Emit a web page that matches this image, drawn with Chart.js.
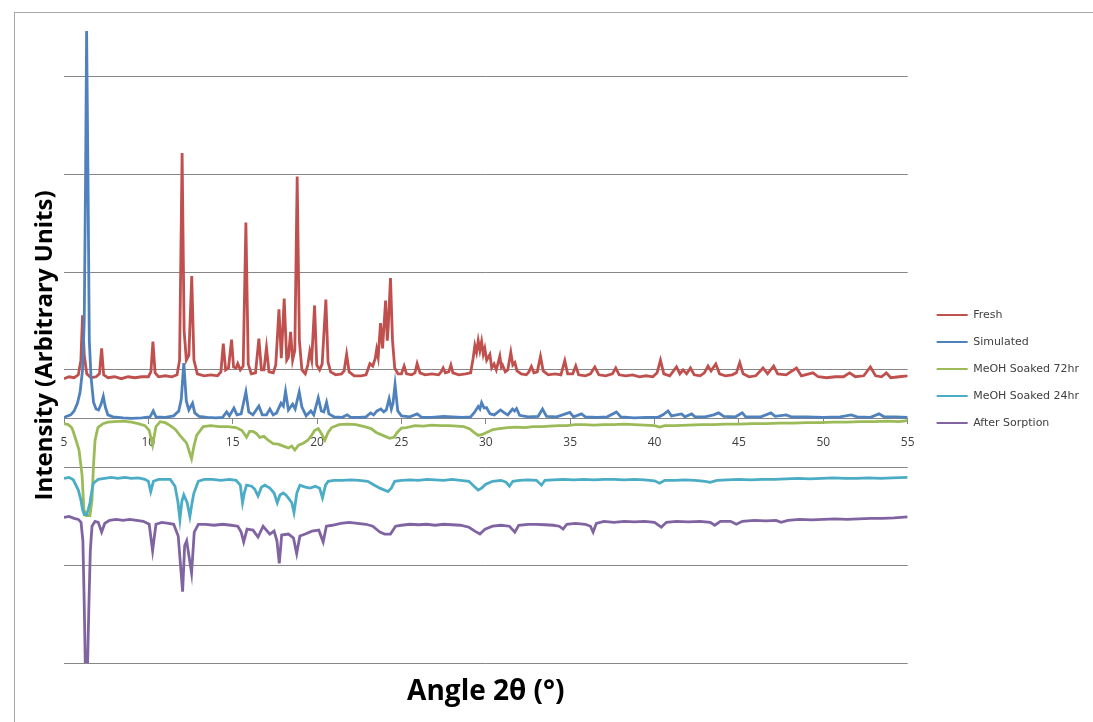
<!DOCTYPE html>
<html>
<head>
<meta charset="utf-8">
<script src="https://cdn.jsdelivr.net/npm/chart.js@4.4.1/dist/chart.umd.min.js"></script>
<style>
  body { margin: 0; background: #fff; }
  #wrap { position: relative; width: 1093px; height: 722px; overflow: hidden; }
  /* marco gris del grafico (arriba e izquierda) */
  #frame { position: absolute; left: 14px; top: 12px; right: -2px; bottom: -2px; border-left: 1px solid #a6a6a6; border-top: 1px solid #a6a6a6; }
  #xrd { position: absolute; left: 0; top: 0; }
</style>
</head>
<body>
<div id="wrap">
  <div id="frame"></div>
  <canvas id="xrd" width="1093" height="722"></canvas>
</div>
<script>
// Datos: [angulo 2θ, intensidad con desplazamiento]
const seriesNames = ['Fresh', 'Simulated', 'MeOH Soaked 72hr', 'MeOH Soaked 24hr', 'After Sorption'];
const seriesColors = ['#C0504D', '#4F81BD', '#9BBB59', '#4BACC6', '#8064A2'];
const angleTicks = [5, 10, 15, 20, 25, 30, 35, 40, 45, 50, 55];
const gridValues = [-25, -15, -5, 5, 15, 25, 35];

const fresh = [[5.0,4.1],[5.3,4.3],[5.6,4.2],[5.85,4.5],[6.0,6.0],[6.1,10.6],[6.2,6.5],[6.35,4.6],[6.6,4.2],[6.9,4.3],[7.1,4.6],[7.23,7.2],[7.35,4.5],[7.6,4.2],[8.0,4.3],[8.4,4.1],[8.8,4.3],[9.2,4.2],[9.6,4.3],[10.0,4.3],[10.15,4.8],[10.27,7.9],[10.4,4.7],[10.6,4.3],[11.0,4.4],[11.4,4.3],[11.7,4.5],[11.85,6.0],[12.0,27.2],[12.12,9.0],[12.25,6.0],[12.4,6.5],[12.57,14.6],[12.7,6.0],[12.9,4.6],[13.3,4.4],[13.7,4.5],[14.1,4.4],[14.3,4.8],[14.44,7.7],[14.58,5.0],[14.75,5.2],[14.93,8.1],[15.05,5.3],[15.2,5.2],[15.3,5.65],[15.45,5.0],[15.62,5.4],[15.78,20.1],[15.92,5.6],[16.1,4.6],[16.35,4.7],[16.55,8.2],[16.7,5.0],[16.85,5.0],[17.0,7.3],[17.15,4.8],[17.4,4.7],[17.55,5.5],[17.74,11.2],[17.88,6.2],[18.05,12.3],[18.2,6.0],[18.3,6.3],[18.43,8.9],[18.55,6.0],[18.68,7.0],[18.82,24.8],[18.95,8.0],[19.1,5.0],[19.3,4.6],[19.45,5.5],[19.57,6.9],[19.68,6.0],[19.85,11.6],[19.98,5.5],[20.15,5.0],[20.3,5.6],[20.52,12.2],[20.65,5.8],[20.8,4.8],[21.1,4.5],[21.45,4.6],[21.6,4.9],[21.75,6.6],[21.9,4.8],[22.2,4.4],[22.6,4.4],[22.9,4.5],[23.0,5.0],[23.13,5.65],[23.3,5.4],[23.45,6.2],[23.53,7.1],[23.62,6.3],[23.76,9.8],[23.88,7.2],[24.06,12.1],[24.16,8.0],[24.22,9.5],[24.35,14.4],[24.47,8.0],[24.6,5.2],[24.8,4.6],[25.0,4.6],[25.16,5.4],[25.3,4.6],[25.6,4.5],[25.8,4.7],[25.93,5.65],[26.1,4.7],[26.4,4.5],[26.8,4.6],[27.2,4.5],[27.35,4.8],[27.47,5.2],[27.6,4.7],[27.8,4.8],[27.93,5.5],[28.05,4.7],[28.4,4.5],[28.8,4.6],[29.1,4.7],[29.25,6.2],[29.35,7.5],[29.45,6.8],[29.55,8.0],[29.65,7.0],[29.75,7.9],[29.85,6.6],[29.94,7.2],[30.05,6.0],[30.24,6.6],[30.35,5.2],[30.49,5.6],[30.62,5.0],[30.83,6.4],[30.92,5.3],[30.99,5.5],[31.15,4.8],[31.3,5.0],[31.48,6.8],[31.6,5.5],[31.72,5.75],[31.85,4.9],[32.1,4.6],[32.4,4.5],[32.55,4.8],[32.7,5.35],[32.85,4.7],[33.05,4.8],[33.24,6.4],[33.4,4.9],[33.7,4.5],[34.1,4.6],[34.45,4.5],[34.68,5.95],[34.85,4.6],[35.15,4.6],[35.33,5.4],[35.5,4.5],[35.9,4.4],[36.2,4.6],[36.46,5.3],[36.7,4.5],[37.1,4.4],[37.5,4.6],[37.7,5.2],[37.9,4.5],[38.3,4.4],[38.7,4.5],[39.1,4.3],[39.5,4.4],[39.9,4.3],[40.15,4.7],[40.35,6.0],[40.55,4.6],[40.9,4.4],[41.3,5.3],[41.5,4.6],[41.69,5.0],[41.9,4.6],[42.13,5.2],[42.35,4.5],[42.7,4.4],[42.95,4.7],[43.17,5.4],[43.35,4.9],[43.63,5.6],[43.85,4.6],[44.2,4.4],[44.6,4.5],[44.85,4.7],[45.05,5.75],[45.25,4.6],[45.6,4.3],[46.0,4.4],[46.43,5.2],[46.7,4.6],[47.06,5.4],[47.3,4.6],[47.8,4.5],[48.41,5.2],[48.7,4.4],[49.39,4.7],[49.7,4.3],[50.2,4.2],[50.7,4.3],[51.2,4.3],[51.56,4.7],[51.9,4.3],[52.4,4.4],[52.79,5.3],[53.1,4.4],[53.45,4.3],[53.74,4.7],[54.0,4.2],[54.5,4.3],[55.0,4.4]];

const simulated = [[5.0,0.1],[5.1,0.2],[5.4,0.4],[5.6,0.8],[5.8,1.6],[5.95,2.7],[6.1,5.0],[6.2,10],[6.28,25],[6.34,39.7],[6.42,25],[6.5,8],[6.6,4.3],[6.75,1.7],[6.9,1.0],[7.05,0.9],[7.2,1.5],[7.33,2.3],[7.45,1.2],[7.6,0.4],[7.9,0.2],[8.5,0.1],[9.0,0.05],[9.6,0.1],[10.1,0.2],[10.29,0.8],[10.45,0.2],[11.0,0.15],[11.5,0.3],[11.8,0.8],[11.95,2.0],[12.1,5.7],[12.25,1.8],[12.4,0.9],[12.62,1.6],[12.75,0.6],[13.0,0.25],[13.5,0.15],[14.0,0.1],[14.4,0.15],[14.64,0.7],[14.8,0.3],[15.07,1.1],[15.25,0.4],[15.5,0.5],[15.78,2.75],[15.95,0.7],[16.2,0.4],[16.55,1.3],[16.75,0.4],[17.0,0.4],[17.2,1.0],[17.4,0.4],[17.6,0.6],[17.86,1.6],[18.0,1.3],[18.13,2.8],[18.3,0.9],[18.55,1.5],[18.7,1.0],[18.94,2.75],[19.1,1.2],[19.35,0.3],[19.63,0.8],[19.8,0.4],[20.07,2.15],[20.25,0.8],[20.4,0.7],[20.56,1.7],[20.7,0.5],[21.0,0.2],[21.5,0.15],[21.78,0.4],[22.0,0.15],[22.5,0.15],[22.9,0.2],[23.17,0.6],[23.35,0.4],[23.55,0.8],[23.78,1.0],[23.95,0.7],[24.1,0.9],[24.27,2.05],[24.4,1.0],[24.5,1.6],[24.62,3.5],[24.78,0.8],[25.0,0.3],[25.5,0.2],[25.93,0.5],[26.2,0.15],[26.8,0.15],[27.5,0.25],[28.0,0.2],[28.6,0.15],[29.1,0.2],[29.3,0.6],[29.55,1.25],[29.65,1.0],[29.75,1.65],[29.9,1.1],[30.04,1.15],[30.25,0.5],[30.5,0.4],[30.87,0.9],[31.1,0.6],[31.3,0.4],[31.58,1.0],[31.7,0.8],[31.82,1.05],[32.0,0.35],[32.5,0.2],[33.1,0.25],[33.36,1.0],[33.6,0.25],[34.2,0.2],[34.98,0.65],[35.2,0.2],[35.67,0.5],[35.9,0.2],[36.6,0.15],[37.2,0.2],[37.74,0.7],[38.0,0.2],[38.8,0.1],[39.5,0.15],[40.2,0.15],[40.5,0.4],[40.8,0.8],[41.0,0.3],[41.6,0.5],[41.8,0.2],[42.2,0.5],[42.4,0.2],[43.0,0.2],[43.5,0.4],[43.8,0.6],[44.1,0.25],[44.8,0.2],[45.2,0.6],[45.4,0.2],[46.3,0.2],[46.9,0.6],[47.15,0.25],[47.8,0.4],[48.1,0.2],[49.0,0.2],[50.0,0.15],[51.0,0.2],[51.66,0.4],[52.0,0.2],[52.8,0.15],[53.3,0.5],[53.6,0.2],[54.3,0.2],[55.0,0.15]];

const soaked72 = [[5.0,-0.5],[5.25,-0.6],[5.45,-0.9],[5.53,-1.2],[5.75,-2.4],[5.89,-3.2],[6.07,-5.75],[6.18,-9.3],[6.3,-9.9],[6.54,-9.9],[6.66,-8.3],[6.75,-4.7],[6.84,-2.2],[7.01,-0.9],[7.31,-0.5],[7.6,-0.35],[8.0,-0.3],[8.5,-0.25],[9.0,-0.35],[9.4,-0.5],[9.8,-0.7],[10.05,-1.2],[10.25,-2.7],[10.45,-0.8],[10.7,-0.3],[11.0,-0.4],[11.3,-0.7],[11.6,-1.1],[11.87,-1.7],[12.27,-2.5],[12.45,-3.5],[12.56,-4.1],[12.7,-2.8],[12.86,-1.7],[13.25,-0.8],[13.7,-0.7],[14.2,-0.8],[14.7,-0.8],[15.2,-0.9],[15.55,-1.2],[15.82,-1.9],[16.0,-1.3],[16.2,-1.3],[16.4,-1.5],[16.6,-1.9],[16.85,-1.8],[17.1,-2.2],[17.4,-2.55],[17.7,-2.6],[18.0,-2.8],[18.3,-3.0],[18.5,-2.8],[18.68,-3.2],[18.9,-2.7],[19.18,-2.5],[19.45,-2.2],[19.67,-1.7],[19.85,-1.2],[20.07,-1.0],[20.25,-1.5],[20.46,-2.2],[20.65,-1.4],[20.86,-0.9],[21.3,-0.6],[21.8,-0.55],[22.3,-0.6],[22.8,-0.8],[23.2,-1.0],[23.5,-1.4],[23.9,-1.7],[24.3,-2.0],[24.55,-1.9],[24.75,-1.4],[25.0,-0.95],[25.3,-0.9],[25.8,-0.7],[26.3,-0.75],[26.8,-0.65],[27.3,-0.7],[27.8,-0.7],[28.3,-0.75],[28.7,-0.8],[29.05,-1.05],[29.3,-1.4],[29.55,-1.7],[29.8,-1.6],[30.04,-1.4],[30.43,-1.1],[30.8,-1.0],[31.3,-0.9],[31.8,-0.85],[32.3,-0.9],[32.8,-0.8],[33.3,-0.8],[33.8,-0.75],[34.3,-0.7],[34.8,-0.7],[35.3,-0.6],[35.8,-0.6],[36.4,-0.65],[37.0,-0.6],[37.6,-0.6],[38.2,-0.55],[38.8,-0.6],[39.4,-0.65],[40.0,-0.7],[40.3,-0.85],[40.6,-0.7],[41.2,-0.7],[42.0,-0.65],[42.8,-0.6],[43.5,-0.6],[44.2,-0.55],[45.0,-0.55],[45.8,-0.5],[46.6,-0.5],[47.4,-0.45],[48.2,-0.45],[49.0,-0.4],[49.8,-0.4],[50.6,-0.35],[51.4,-0.35],[52.2,-0.3],[53.0,-0.3],[53.8,-0.25],[54.5,-0.3],[55.0,-0.2]];

const soaked24 = [[5.0,-6.1],[5.3,-6.0],[5.55,-6.25],[5.85,-7.3],[6.0,-8.3],[6.1,-9.3],[6.2,-9.8],[6.35,-9.8],[6.45,-9.2],[6.54,-8.6],[6.65,-7.4],[6.74,-6.6],[7.03,-6.2],[7.4,-6.1],[7.8,-6.0],[8.2,-6.1],[8.6,-6.0],[9.0,-6.1],[9.4,-6.05],[9.8,-6.2],[10.0,-6.4],[10.14,-7.45],[10.3,-6.4],[10.6,-6.2],[11.0,-6.2],[11.3,-6.2],[11.58,-6.9],[11.75,-8.5],[11.87,-10.3],[11.98,-8.5],[12.1,-7.8],[12.3,-8.6],[12.46,-10.0],[12.6,-8.5],[12.7,-7.6],[12.96,-6.4],[13.3,-6.2],[13.8,-6.2],[14.3,-6.3],[14.8,-6.2],[15.2,-6.3],[15.45,-6.8],[15.58,-8.6],[15.7,-7.5],[15.82,-6.8],[16.12,-6.9],[16.3,-7.2],[16.5,-7.9],[16.7,-7.0],[16.9,-6.8],[17.2,-7.1],[17.45,-7.6],[17.64,-8.6],[17.8,-7.8],[17.99,-7.6],[18.15,-7.8],[18.29,-8.1],[18.5,-8.6],[18.63,-9.6],[18.8,-7.6],[18.98,-6.8],[19.3,-7.0],[19.6,-7.1],[19.9,-6.9],[20.15,-7.1],[20.32,-8.1],[20.5,-6.8],[20.66,-6.4],[21.0,-6.3],[21.5,-6.3],[22.0,-6.25],[22.5,-6.3],[23.0,-6.4],[23.4,-6.8],[23.72,-7.1],[24.0,-7.3],[24.2,-7.45],[24.4,-7.1],[24.6,-6.4],[25.0,-6.3],[25.5,-6.25],[26.0,-6.3],[26.5,-6.2],[27.0,-6.25],[27.5,-6.3],[28.0,-6.2],[28.5,-6.3],[29.0,-6.4],[29.3,-6.9],[29.55,-7.3],[29.75,-7.1],[30.0,-6.7],[30.4,-6.4],[30.9,-6.3],[31.2,-6.5],[31.4,-6.9],[31.6,-6.4],[32.0,-6.3],[32.5,-6.25],[33.0,-6.3],[33.3,-6.8],[33.5,-6.3],[34.0,-6.25],[34.6,-6.2],[35.2,-6.25],[35.8,-6.2],[36.4,-6.25],[37.0,-6.2],[37.6,-6.2],[38.2,-6.25],[38.8,-6.2],[39.4,-6.25],[40.0,-6.35],[40.3,-6.6],[40.6,-6.3],[41.2,-6.3],[41.8,-6.25],[42.4,-6.3],[43.0,-6.4],[43.3,-6.5],[43.7,-6.3],[44.3,-6.25],[45.0,-6.2],[45.7,-6.25],[46.4,-6.2],[47.1,-6.2],[47.8,-6.15],[48.5,-6.1],[49.2,-6.15],[49.9,-6.1],[50.6,-6.05],[51.3,-6.1],[52.0,-6.1],[52.7,-6.05],[53.4,-6.1],[54.1,-6.05],[55.0,-6.0]];

const afterSorption = [[5.0,-10.1],[5.3,-10.0],[5.6,-10.2],[5.85,-10.3],[6.01,-10.6],[6.12,-12.5],[6.2,-19.0],[6.26,-25.0],[6.4,-25.0],[6.47,-19.5],[6.56,-13.5],[6.66,-11.0],[6.84,-10.5],[7.03,-10.6],[7.23,-11.6],[7.42,-10.7],[7.7,-10.4],[8.1,-10.3],[8.5,-10.4],[8.9,-10.3],[9.3,-10.4],[9.7,-10.5],[10.05,-10.8],[10.25,-13.5],[10.45,-10.8],[10.8,-10.6],[11.2,-10.7],[11.5,-10.8],[11.77,-12.0],[12.03,-17.7],[12.15,-13.0],[12.27,-12.5],[12.56,-15.8],[12.72,-11.6],[12.96,-10.8],[13.4,-10.8],[13.9,-10.9],[14.4,-10.8],[14.9,-10.9],[15.3,-11.0],[15.5,-11.6],[15.65,-12.6],[15.85,-11.3],[16.2,-11.4],[16.5,-12.1],[16.8,-11.0],[17.2,-11.8],[17.45,-11.5],[17.62,-12.5],[17.76,-14.8],[17.9,-11.9],[18.3,-11.8],[18.6,-12.2],[18.79,-13.8],[18.98,-12.0],[19.3,-11.8],[19.7,-11.5],[20.1,-11.4],[20.36,-12.6],[20.55,-11.0],[20.9,-10.9],[21.4,-10.7],[21.9,-10.6],[22.4,-10.7],[22.9,-10.8],[23.3,-11.0],[23.72,-11.6],[24.0,-11.8],[24.35,-11.8],[24.65,-11.0],[25.0,-10.9],[25.5,-10.8],[26.0,-10.85],[26.5,-10.8],[27.0,-10.9],[27.5,-10.8],[28.0,-10.85],[28.5,-10.9],[29.0,-11.1],[29.35,-11.5],[29.65,-11.8],[29.95,-11.3],[30.4,-11.0],[30.9,-10.9],[31.4,-11.0],[31.72,-11.6],[31.95,-10.9],[32.5,-10.8],[33.0,-10.8],[33.5,-10.85],[34.0,-10.9],[34.35,-11.0],[34.58,-11.3],[34.8,-10.8],[35.3,-10.7],[35.9,-10.8],[36.2,-11.0],[36.36,-11.6],[36.55,-10.7],[37.0,-10.5],[37.6,-10.6],[38.2,-10.5],[38.8,-10.55],[39.4,-10.5],[40.0,-10.6],[40.4,-11.1],[40.7,-10.6],[41.3,-10.5],[42.0,-10.55],[42.7,-10.5],[43.3,-10.6],[43.57,-10.9],[43.9,-10.5],[44.5,-10.5],[44.85,-10.8],[45.2,-10.5],[45.9,-10.4],[46.6,-10.45],[47.2,-10.4],[47.5,-10.6],[47.9,-10.4],[48.6,-10.3],[49.3,-10.35],[50.0,-10.3],[50.7,-10.25],[51.4,-10.3],[52.1,-10.25],[52.8,-10.2],[53.5,-10.2],[54.2,-10.15],[55.0,-10.05]];

const allSeries = [fresh, simulated, soaked72, soaked24, afterSorption];

// armar los datasets (la ultima serie queda encima, como en Excel)
const datasets = allSeries.map((s, i) => ({
  label: seriesNames[i],
  data: s.map(p => ({ x: p[0], y: p[1] })),
  borderColor: seriesColors[i],
  backgroundColor: seriesColors[i],
  borderWidth: 2.8,
  pointRadius: 0,
  tension: 0,
  order: allSeries.length - i
}));

const ctx = document.getElementById('xrd').getContext('2d');
const xrdChart = new Chart(ctx, {
  type: 'line',
  data: { datasets: datasets },
  options: {
    responsive: false,
    animation: false,
    layout: { padding: { left: 26.6, top: 28, right: 4, bottom: 12 } },
    plugins: {
      tooltip: { enabled: false },
      legend: {
        position: 'right',
        labels: {
          boxWidth: 31,
          boxHeight: 2,
          padding: 16,
          color: '#404040',
          font: { family: 'DejaVu Sans', size: 11 },
          sort: (a, b) => a.datasetIndex - b.datasetIndex,
          generateLabels: function(chart) {
            const items = Chart.defaults.plugins.legend.labels.generateLabels(chart);
            items.forEach(it => { it.fillStyle = seriesColors[it.datasetIndex]; it.lineWidth = 0; });
            return items;
          }
        }
      }
    },
    scales: {
      x: {
        type: 'linear',
        min: 5,
        max: 55,
        position: { y: 0 },
        afterBuildTicks: axis => { axis.ticks = angleTicks.map(v => ({ value: v })); },
        grid: { drawOnChartArea: false, drawTicks: true, tickLength: 5, color: '#868686' },
        border: { display: true, color: '#868686', width: 1 },
        ticks: { padding: 12, color: '#404040', font: { family: 'Open Sans', size: 12 }, maxRotation: 0 }
      },
      // eje vacio solo para el titulo de abajo
      xTitle: {
        type: 'linear',
        position: 'bottom',
        min: 0,
        max: 1,
        grid: { display: false },
        border: { display: false },
        ticks: { display: false },
        title: {
          display: true,
          text: 'Angle 2θ (°)',
          color: '#000',
          font: { family: 'Open Sans', size: 28, weight: 'bold' },
          padding: { top: 4.2, bottom: 1.2 }
        }
      },
      y: {
        min: -25,
        max: 40,
        afterBuildTicks: axis => { axis.ticks = gridValues.map(v => ({ value: v })); },
        grid: { color: '#868686', drawTicks: false },
        border: { display: false },
        ticks: { display: false },
        title: {
          display: true,
          text: 'Intensity (Arbitrary Units)',
          color: '#000',
          font: { family: 'Open Sans', size: 24, weight: 'bold' },
          padding: { top: 4, bottom: 4.6 }
        }
      },
      // espacio vacio entre el area del grafico y la leyenda
      yGap: {
        type: 'linear',
        position: 'right',
        grid: { display: false },
        border: { display: false },
        ticks: { display: false },
        afterFit: s => { s.width = 13; }
      }
    }
  }
});
</script>
</body>
</html>
